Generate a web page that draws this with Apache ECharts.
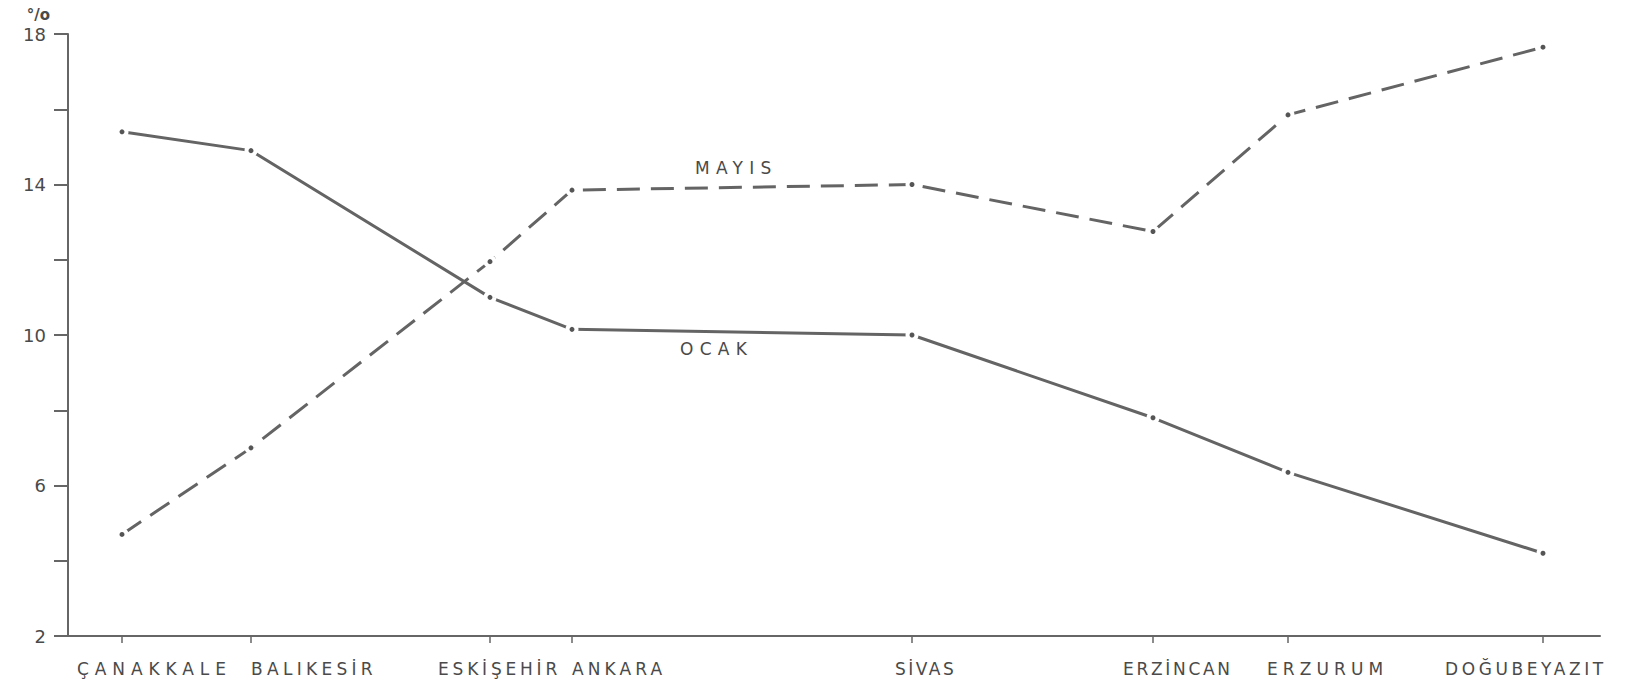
<!DOCTYPE html>
<html><head><meta charset="utf-8">
<script src="https://cdn.jsdelivr.net/npm/echarts@6/dist/echarts.min.js"></script>
<style>html,body{margin:0;padding:0;background:#fff}#c{width:1630px;height:688px}</style>
</head><body><div id="c"></div>
<script>
// ---- data ----
const stations = ['ÇANAKKALE','BALIKESİR','ESKİŞEHİR','ANKARA','SİVAS','ERZİNCAN','ERZURUM','DOĞUBEYAZIT'];
const stationDistance = [54, 183, 422, 504, 844, 1085, 1220, 1475]; // relative distance along the route
const ocak  = [15.4, 14.9, 11.0, 10.15, 10.0, 7.8, 6.35, 4.2];
const mayis = [4.7, 7.0, 11.95, 13.85, 14.0, 12.75, 15.85, 17.65];
const yTickLabels = [2, 6, 10, 14, 18];
const seriesNames = ['OCAK', 'MAYIS'];
const unitLabel = '°/o';

// ---- layout / style (not data) ----
const labelShift = [-45, 0, -52, 0, -17, -30, -21, -98];
const labelSpacing = [5.9, 4.3, 3.8, 4.1, 2.5, 2.7, 5.1, 3.6];
const labelValues = stationDistance.map((d, i) => d + labelShift[i]);
const grey = '#4a4a4a';
const lineGrey = '#646464';

const chart = echarts.init(document.getElementById('c'), null, {renderer: 'svg'});
chart.setOption({
  animation: false,
  backgroundColor: '#ffffff',
  grid: {left: 68, right: 30, top: 34, bottom: 52, containLabel: false},
  xAxis: {
    type: 'value', min: 0, max: 1532,
    splitLine: {show: false},
    axisLine: {show: true, onZero: false, lineStyle: {color: '#666', width: 2}},
    axisTick: {show: true, customValues: stationDistance, length: 7, lineStyle: {color: '#666', width: 1.5}},
    axisLabel: {
      show: true, customValues: labelValues, align: 'left', margin: 24,
      fontFamily: 'DejaVu Sans', fontSize: 17, color: grey,
      formatter: v => { const i = labelValues.indexOf(v); return i >= 0 ? stations[i] : ''; }
    }
  },
  yAxis: {
    type: 'value', min: 2, max: 18, interval: 2,
    name: unitLabel, nameLocation: 'end', nameGap: 12,
    nameTextStyle: {fontFamily: 'DejaVu Sans', fontSize: 15, fontWeight: 'bold', color: grey, align: 'right', padding: [0, 18, 0, 0]},
    splitLine: {show: false},
    axisLine: {show: true, lineStyle: {color: '#666', width: 2}},
    axisTick: {show: true, length: 14, lineStyle: {color: '#666', width: 2}},
    axisLabel: {
      margin: 22, fontFamily: 'DejaVu Sans', fontSize: 18, color: grey,
      formatter: v => yTickLabels.includes(v) ? String(v) : ''
    }
  },
  series: [
    {
      name: seriesNames[0], type: 'line',
      data: stationDistance.map((d, i) => [d, ocak[i]]),
      symbol: 'circle', symbolSize: 9,
      itemStyle: {color: '#555', borderColor: '#fff', borderWidth: 4},
      lineStyle: {color: lineGrey, width: 3, type: 'solid'},
      emphasis: {disabled: true}
    },
    {
      name: seriesNames[1], type: 'line',
      data: stationDistance.map((d, i) => [d, mayis[i]]),
      symbol: 'circle', symbolSize: 9,
      itemStyle: {color: '#555', borderColor: '#fff', borderWidth: 4},
      lineStyle: {color: lineGrey, width: 3, type: [23, 11]},
      emphasis: {disabled: true}
    }
  ],
  graphic: [
    {type: 'text', left: 695, top: 159, style: {text: seriesNames[1], fontFamily: 'DejaVu Sans', fontSize: 17, fill: grey}},
    {type: 'text', left: 680, top: 340, style: {text: seriesNames[0], fontFamily: 'DejaVu Sans', fontSize: 17, fill: grey}}
  ]
});

function spaceLetters() {
  document.querySelectorAll('#c svg text').forEach(t => {
    const s = t.textContent;
    const i = stations.indexOf(s);
    if (i >= 0) t.style.letterSpacing = labelSpacing[i] + 'px';
    else if (seriesNames.includes(s)) t.style.letterSpacing = '6.3px';
  });
}
chart.on('finished', spaceLetters);
setTimeout(spaceLetters, 50);
setTimeout(spaceLetters, 300);
</script></body></html>
